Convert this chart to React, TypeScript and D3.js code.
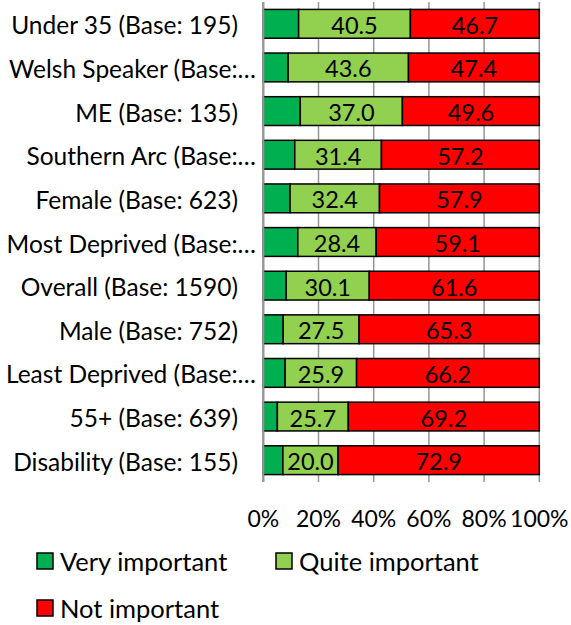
import React from "react";
import * as d3 from "d3";

const categories = [
  "Under 35 (Base: 195)",
  "Welsh Speaker (Base:…",
  "ME (Base: 135)",
  "Southern Arc (Base:…",
  "Female (Base: 623)",
  "Most Deprived (Base:…",
  "Overall (Base: 1590)",
  "Male (Base: 752)",
  "Least Deprived (Base:…",
  "55+ (Base: 639)",
  "Disability (Base: 155)",
];
const veryImportant = [12.8, 9.0, 13.4, 11.4, 9.7, 12.5, 8.3, 7.2, 7.9, 5.1, 7.1];
const quiteImportant = [40.5, 43.6, 37.0, 31.4, 32.4, 28.4, 30.1, 27.5, 25.9, 25.7, 20.0];
const notImportant = [46.7, 47.4, 49.6, 57.2, 57.9, 59.1, 61.6, 65.3, 66.2, 69.2, 72.9];
const seriesNames = ["Very important", "Quite important", "Not important"];
const seriesColors = ["#00B050", "#92D050", "#FF0000"];
const xTicks = [0, 20, 40, 60, 80, 100];

const FONT = "Lato, 'Open Sans', sans-serif";

export default function App() {
  const W = 571;
  const H = 625;
  const x = d3.scaleLinear().domain([0, 100]).range([263.3, 539.3]);
  const y = d3.scaleBand<string>().domain(categories).range([2, 482]).paddingInner(0.34).paddingOuter(0.17);

  const rows = categories.map((c, i) => ({
    cat: c,
    vals: [veryImportant[i], quiteImportant[i], notImportant[i]],
  }));
  const stack = rows.map((r) => {
    let acc = 0;
    return r.vals.map((v, j) => {
      const s = { x0: acc, x1: acc + v, v, j };
      acc += v;
      return s;
    });
  });

  return (
    <svg width={W} height={H} style={{ position: "absolute", left: 0, top: 0, background: "#fff" }}>
      {xTicks.map((t) => (
        <line key={"g" + t} x1={x(t)} x2={x(t)} y1={2} y2={482} stroke="#969696" strokeWidth={t === 0 ? 2 : 1.5} />
      ))}
      {rows.map((r, i) => (
        <g key={r.cat}>
          {stack[i].map((s) => (
            <rect
              key={s.j}
              x={x(s.x0)}
              y={y(r.cat)!}
              width={x(s.x1) - x(s.x0)}
              height={y.bandwidth()}
              fill={seriesColors[s.j]}
              stroke="#000"
              strokeWidth={1.5}
            />
          ))}
          {stack[i]
            .filter((s) => s.j > 0)
            .map((s) => (
              <text
                key={"t" + s.j}
                x={(x(s.x0) + x(s.x1)) / 2}
                y={y(r.cat)! + y.bandwidth() / 2 + 1}
                textAnchor="middle"
                dominantBaseline="central"
                fontFamily={FONT}
                fontSize={23.5}
                fill="#000"
              >
                {s.v.toFixed(1)}
              </text>
            ))}
          <text
            x={r.cat.endsWith("…") ? 256 : 238}
            y={y(r.cat)! + y.bandwidth() / 2 + 1}
            textAnchor="end"
            dominantBaseline="central"
            fontFamily={FONT}
            fontSize={24.5}
            fill="#000"
          >
            {r.cat}
          </text>
        </g>
      ))}
      <line x1={x(0)} x2={x(0)} y1={2} y2={482} stroke="#969696" strokeWidth={2} />
      {xTicks.map((t) => (
        <text
          key={"tl" + t}
          x={x(t)}
          y={518}
          textAnchor="middle"
          dominantBaseline="central"
          fontFamily={FONT}
          fontSize={23}
          fill="#000"
        >
          {t + "%"}
        </text>
      ))}
      {[
        { i: 0, sx: 37, sy: 553 },
        { i: 1, sx: 276, sy: 553 },
        { i: 2, sx: 37, sy: 600 },
      ].map((l) => (
        <g key={"l" + l.i}>
          <rect x={l.sx} y={l.sy} width={16} height={16} fill={seriesColors[l.i]} stroke="#000" strokeWidth={1.5} />
          <text
            x={l.sx + 23}
            y={l.sy + 8}
            dominantBaseline="central"
            fontFamily={FONT}
            fontSize={25.5}
            fill="#000"
          >
            {seriesNames[l.i]}
          </text>
        </g>
      ))}
    </svg>
  );
}
